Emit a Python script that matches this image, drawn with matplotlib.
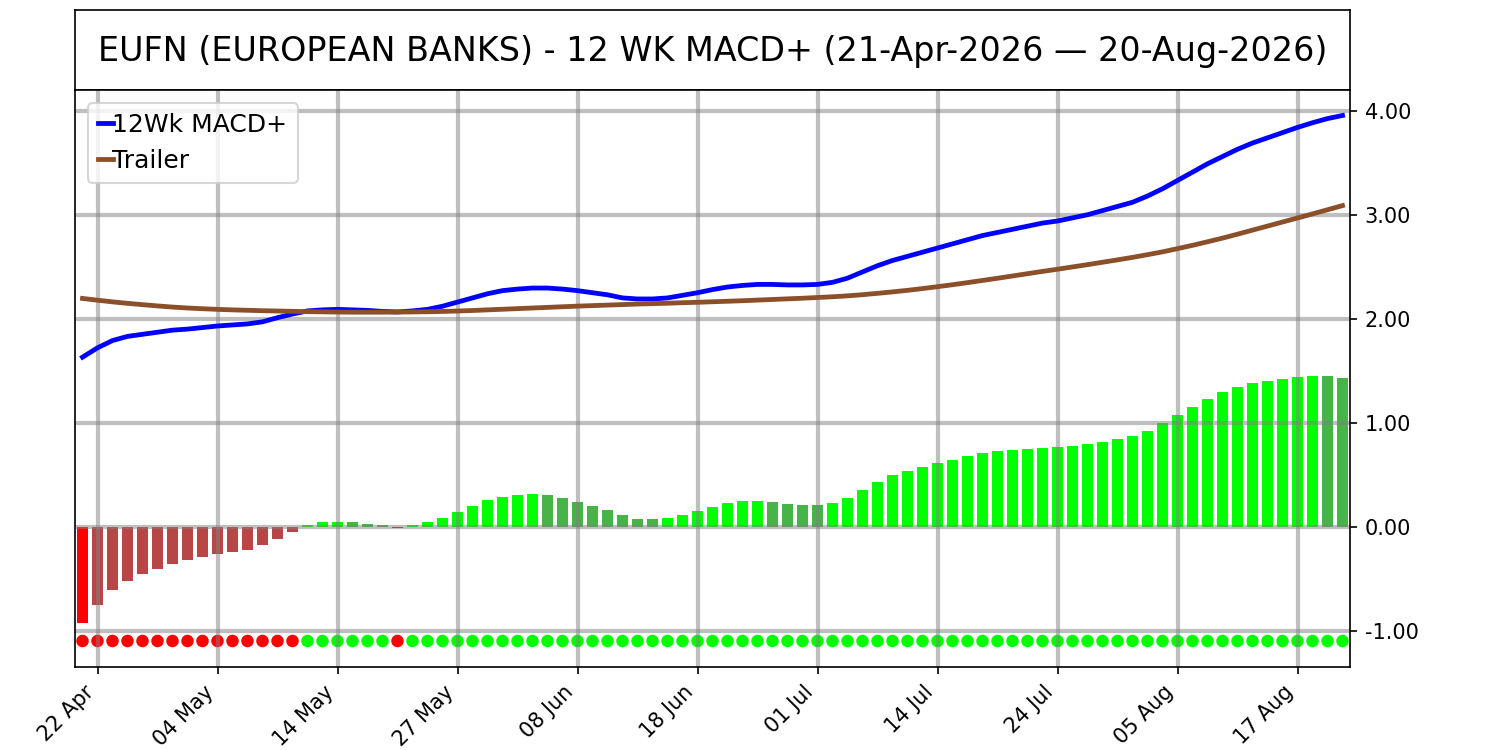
import numpy as np
import pandas as pd
import matplotlib
matplotlib.use('Agg')
import matplotlib.pyplot as plt
from matplotlib.ticker import FormatStrFormatter

# 交易日（美股节假日除外）
holidays = ['2026-05-25', '2026-06-19', '2026-07-03']
days = pd.bdate_range('2026-04-21', '2026-08-20', freq='C', holidays=holidays)

# 12周 MACD+ 线
macd = [1.63, 1.72, 1.79, 1.83, 1.85, 1.87, 1.89, 1.90, 1.915, 1.93,
        1.94, 1.95, 1.97, 2.01, 2.045, 2.075, 2.085, 2.09, 2.085, 2.08,
        2.07, 2.065, 2.075, 2.09, 2.12, 2.16, 2.20, 2.24, 2.27, 2.285,
        2.295, 2.295, 2.285, 2.27, 2.25, 2.23, 2.20, 2.19, 2.19, 2.20,
        2.225, 2.25, 2.28, 2.305, 2.32, 2.33, 2.33, 2.325, 2.325, 2.33,
        2.35, 2.39, 2.45, 2.51, 2.56, 2.60, 2.64, 2.68, 2.72, 2.76,
        2.80, 2.83, 2.86, 2.89, 2.92, 2.94, 2.97, 3.00, 3.04, 3.08,
        3.12, 3.18, 3.25, 3.33, 3.41, 3.49, 3.56, 3.63, 3.69, 3.74,
        3.79, 3.84, 3.885, 3.925, 3.955]

# Trailer 线
trailer = [2.195, 2.178, 2.162, 2.148, 2.135, 2.123, 2.112, 2.103, 2.096, 2.090,
           2.085, 2.081, 2.077, 2.074, 2.071, 2.068, 2.066, 2.064, 2.063, 2.063,
           2.063, 2.064, 2.065, 2.067, 2.070, 2.074, 2.079, 2.085, 2.091, 2.097,
           2.103, 2.109, 2.115, 2.121, 2.126, 2.131, 2.136, 2.141, 2.145, 2.149,
           2.154, 2.158, 2.163, 2.168, 2.173, 2.179, 2.185, 2.191, 2.197, 2.204,
           2.211, 2.220, 2.231, 2.244, 2.258, 2.273, 2.290, 2.308, 2.327, 2.347,
           2.368, 2.389, 2.411, 2.433, 2.455, 2.476, 2.498, 2.520, 2.543, 2.566,
           2.590, 2.616, 2.643, 2.674, 2.706, 2.740, 2.775, 2.813, 2.852, 2.891,
           2.930, 2.969, 3.008, 3.048, 3.088]

# 柱状图
hist = [-0.93, -0.75, -0.61, -0.52, -0.46, -0.41, -0.36, -0.32, -0.29, -0.26,
        -0.24, -0.22, -0.18, -0.115, -0.05, 0.02, 0.04, 0.048, 0.045, 0.027,
        0.018, -0.01, 0.02, 0.045, 0.083, 0.14, 0.20, 0.255, 0.285, 0.305,
        0.315, 0.305, 0.276, 0.237, 0.199, 0.16, 0.112, 0.074, 0.072, 0.083,
        0.112, 0.151, 0.189, 0.228, 0.245, 0.248, 0.238, 0.219, 0.209, 0.207,
        0.228, 0.276, 0.353, 0.429, 0.497, 0.535, 0.574, 0.612, 0.644, 0.679,
        0.708, 0.728, 0.737, 0.747, 0.756, 0.766, 0.776, 0.795, 0.814, 0.843,
        0.872, 0.920, 0.997, 1.074, 1.151, 1.228, 1.295, 1.343, 1.381, 1.401,
        1.420, 1.439, 1.449, 1.448, 1.429]

title = 'EUFN (EUROPEAN BANKS) - 12 WK MACD+ (21-Apr-2026 \u2014 20-Aug-2026)'

x = np.arange(len(days))
hist = np.array(hist)

# 柱子颜色：正/负，升/降
colors = []
for i, v in enumerate(hist):
    prev = hist[i - 1] if i > 0 else np.inf
    if v >= 0:
        colors.append('#00ff00' if v >= prev else '#46b446')
    else:
        colors.append('#ff0000' if v < prev else '#b94646')
dot_colors = ['#00ff00' if v >= 0 else '#ff0000' for v in hist]

fig = plt.figure(figsize=(10, 5), dpi=150)

# 标题框
ax_t = fig.add_axes([0.05, 0.88, 0.85, 0.1067])
ax_t.set_xticks([])
ax_t.set_yticks([])
ax_t.text(0.5, 0.48, title, ha='center', va='center', fontsize=16)

ax = fig.add_axes([0.05, 0.1107, 0.85, 0.7693])
ax.bar(x, hist, width=0.7, color=colors)
ax.plot(x, macd, color='blue', linewidth=2.3, label='12Wk MACD+')
ax.plot(x, trailer, color='#8b4f2a', linewidth=2.3, label='Trailer')
ax.scatter(x, np.full(len(x), -1.1), s=25, color=dot_colors, zorder=1)

ax.set_xlim(-0.5, len(x) - 0.5)
ax.set_ylim(-1.35, 4.2)
ax.yaxis.tick_right()
ax.set_yticks([-1, 0, 1, 2, 3, 4])
ax.yaxis.set_major_formatter(FormatStrFormatter('%.2f'))

tick_idx = x[1::8]
ax.set_xticks(tick_idx)
ax.set_xticklabels([days[i].strftime('%d %b') for i in tick_idx], rotation=45, ha='right')

ax.grid(True, color='gray', alpha=0.5, linewidth=2)
ax.legend(loc='upper left', fontsize=12, handlelength=0.6, handletextpad=0.0)

fig.savefig('out.png', dpi=150)
